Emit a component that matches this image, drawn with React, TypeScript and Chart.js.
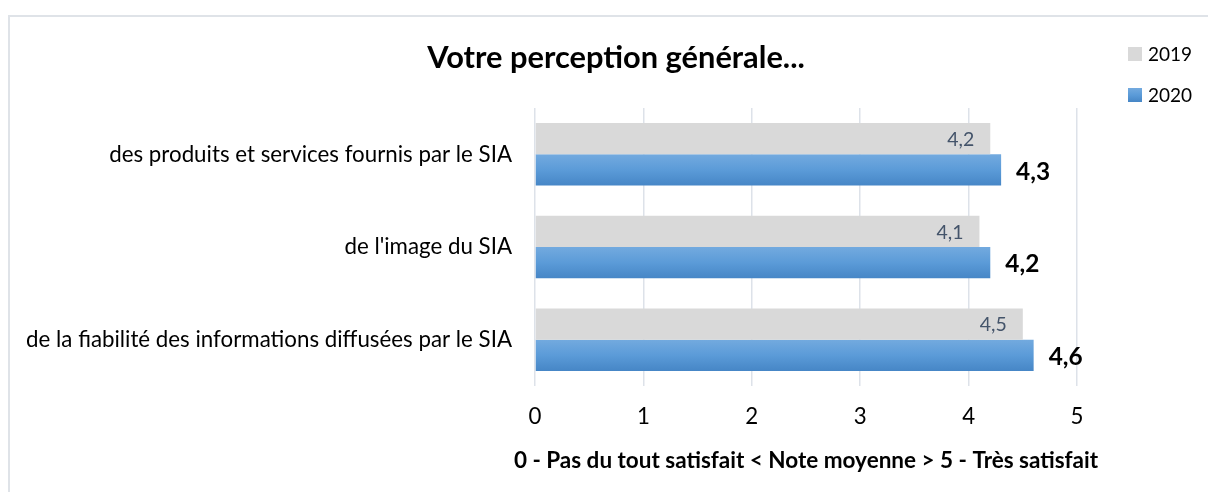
import React, { useEffect, useRef } from "react";
import { Chart, registerables } from "chart.js";
Chart.register(...registerables);

const categories = [
  "des produits et services fournis par le SIA",
  "de l'image du SIA",
  "de la fiabilité des informations diffusées par le SIA",
];
const series2019 = [4.2, 4.1, 4.5];
const series2020 = [4.3, 4.2, 4.6];
const seriesNames = ["2019", "2020"];
const xMin = 0;
const xMax = 5;
const chartTitle = "Votre perception générale...";
const xAxisTitle = "0 - Pas du tout satisfait < Note moyenne > 5 - Très satisfait";

const FAMILY = "Lato, 'Open Sans', sans-serif";
const W = 1208;
const H = 492;
const CAT_PCT = 0.675;

function fitSize(text: string, weight: string, target: number) {
  const c = document.createElement("canvas").getContext("2d")!;
  c.font = `${weight} 100px ${FAMILY}`;
  const w = c.measureText(text).width;
  return Math.round((100 * target) / w * 10) / 10;
}

const fmt = (v: number) => v.toFixed(1).replace(".", ",");

export default function App() {
  const ref = useRef<HTMLCanvasElement | null>(null);

  useEffect(() => {
    const canvas = ref.current!;
    const catSize = fitSize(categories[2], "normal", 485);
    const titleSize = fitSize(chartTitle, "bold", 378);
    const axisTitleSize = fitSize(xAxisTitle, "bold", 583);
    const legendSize = fitSize("2019", "normal", 44);
    const lbl19Size = fitSize("4,5", "normal", 27);
    const lbl20Size = fitSize("4,6", "bold", 34);

    const blueGrad = (ctx: CanvasRenderingContext2D, top: number, bottom: number) => {
      const g = ctx.createLinearGradient(0, top, 0, bottom);
      g.addColorStop(0, "#73aadf");
      g.addColorStop(0.5, "#5b9bd8");
      g.addColorStop(1, "#4686c6");
      return g;
    };

    const decor = {
      id: "decor",
      beforeDraw(chart: any) {
        const ctx = chart.ctx;
        ctx.save();
        ctx.fillStyle = "#ffffff";
        ctx.fillRect(0, 0, W, H);
        ctx.strokeStyle = "#dfe3e8";
        ctx.lineWidth = 2;
        ctx.beginPath();
        ctx.moveTo(9, H + 5);
        ctx.lineTo(9, 16);
        ctx.lineTo(W + 5, 16);
        ctx.stroke();
        ctx.restore();
      },
      beforeDatasetsDraw(chart: any) {
        const m1 = chart.getDatasetMeta(1);
        m1.data.forEach((el: any) => {
          const p = el.getProps(["y", "height"], true);
          if (isFinite(p.y) && isFinite(p.height)) {
            el.options.backgroundColor = blueGrad(chart.ctx, p.y - p.height / 2, p.y + p.height / 2);
          }
        });
      },
      afterDraw(chart: any) {
        const ctx = chart.ctx;
        const area = chart.chartArea;
        ctx.save();
        // title
        ctx.fillStyle = "#000000";
        ctx.font = `bold ${titleSize}px ${FAMILY}`;
        ctx.textAlign = "center";
        ctx.textBaseline = "middle";
        ctx.fillText(chartTitle, 616, 58);
        // axis title
        ctx.font = `bold ${axisTitleSize}px ${FAMILY}`;
        ctx.fillText(xAxisTitle, (area.left + area.right) / 2, 461);
        // legend
        ctx.font = `${legendSize}px ${FAMILY}`;
        ctx.textAlign = "left";
        const ly = [54, 95];
        seriesNames.forEach((name, i) => {
          const y = ly[i];
          if (i === 0) ctx.fillStyle = "#d9d9d9";
          else ctx.fillStyle = blueGrad(ctx, y - 7, y + 7);
          ctx.fillRect(1128, y - 7, 14, 14);
          ctx.fillStyle = "#000000";
          ctx.fillText(name, 1148, y + 1);
        });
        // data labels
        const m0 = chart.getDatasetMeta(0);
        const m1 = chart.getDatasetMeta(1);
        ctx.textBaseline = "middle";
        m0.data.forEach((el: any, i: number) => {
          const p = el.getProps(["x", "y"], true);
          ctx.font = `${lbl19Size}px ${FAMILY}`;
          ctx.fillStyle = "#44546a";
          ctx.textAlign = "right";
          ctx.fillText(fmt(series2019[i]), p.x - 16, p.y + 1);
        });
        m1.data.forEach((el: any, i: number) => {
          const p = el.getProps(["x", "y"], true);
          ctx.font = `bold ${lbl20Size}px ${FAMILY}`;
          ctx.fillStyle = "#000000";
          ctx.textAlign = "left";
          ctx.fillText(fmt(series2020[i]), p.x + 15, p.y + 2);
        });
        ctx.restore();
      },
    };

    const chart = new Chart(canvas, {
      type: "bar",
      data: {
        labels: categories,
        datasets: [
          {
            label: seriesNames[0],
            data: series2019,
            backgroundColor: "#d9d9d9",
            borderWidth: 0,
            barPercentage: 1,
            categoryPercentage: CAT_PCT,
          },
          {
            label: seriesNames[1],
            data: series2020,
            backgroundColor: (c: any) => (c.dataIndex === undefined ? "#5b9bd5" : "#5b9bd6"),
            borderWidth: 0,
            barPercentage: 1,
            categoryPercentage: CAT_PCT,
          },
        ],
      },
      options: {
        indexAxis: "y",
        responsive: false,
        animation: false,
        devicePixelRatio: 1,
        layout: { padding: { left: 0, right: W - 1077, top: 108, bottom: 0 } },
        plugins: {
          legend: { display: false },
          title: { display: false },
          tooltip: { enabled: false },
        },
        scales: {
          x: {
            type: "linear",
            min: xMin,
            max: xMax,
            ticks: {
              stepSize: 1,
              padding: 17,
              color: "#000000",
              font: { family: FAMILY, size: catSize },
            },
            grid: { color: "#dde2e9", lineWidth: 1.5, drawTicks: false },
            border: { display: false },
            afterFit: (s: any) => {
              s.height = H - 386;
            },
          },
          y: {
            type: "category",
            ticks: {
              padding: 23,
              color: "#000000",
              font: { family: FAMILY, size: catSize },
            },
            grid: { display: false, drawTicks: false },
            border: { display: false },
            afterFit: (s: any) => {
              s.width = 535;
            },
          },
        },
      },
      plugins: [decor],
    } as any);

    return () => chart.destroy();
  }, []);

  return (
    <div style={{ position: "absolute", left: 0, top: 0, width: W, height: H, background: "#fff" }}>
      <canvas ref={ref} width={W} height={H} style={{ display: "block", width: W, height: H }} />
    </div>
  );
}
